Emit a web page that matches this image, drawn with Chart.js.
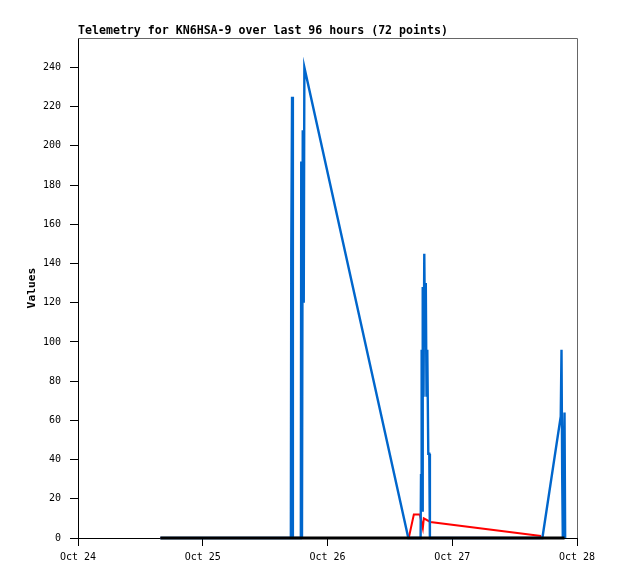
<!DOCTYPE html>
<html>
<head>
<meta charset="utf-8">
<title>Telemetry KN6HSA-9</title>
<script src="https://cdn.jsdelivr.net/npm/chart.js"></script>
<style>
body { margin: 0; background: #fff; }
</style>
</head>
<body>
<canvas id="myChart" width="618" height="579"></canvas>
<script>
const ctx = document.getElementById('myChart');
const titleText = "Telemetry for KN6HSA-9 over last 96 hours (72 points)";
const yTitle = "Values";
const dayLabels = ["Oct 24", "Oct 25", "Oct 26", "Oct 27", "Oct 28"];

// x values are hours since Oct 24 00:00
const blackHours = [15.85, 93.6];
const blackValues = [0, 0];

const blueHours = [15.85, 40.95, 41.03, 41.18, 41.34, 42.87, 42.95, 43.09, 43.24, 43.43, 43.55, 63.55,
    65.91, 65.99, 66.11, 66.20, 66.32, 66.47, 66.62, 66.76, 66.91, 67.05, 67.20, 67.39, 67.58, 67.70,
    89.34, 92.87, 93.02, 93.15, 93.27, 93.60, 93.72];
const blueValues = [0, 0, 145, 225, 0, 0, 192, 0, 208, 120, 240, 0,
    0, 32, 96, 14, 128, 72, 145, 100, 130, 72, 96, 43, 43, 0,
    0, 62, 96, 32, 0, 64, 0];

const redHours = [15.85, 63.63, 64.61, 65.76, 66.34, 66.53, 67.78, 89.09];
const redValues = [0, 0, 12, 12, 5, 10, 8.2, 1];

const monoFont = '"DejaVu Sans Mono", "Liberation Mono", monospace';

function toPoints(hours, values) {
    let pts = [];
    for (let i = 0; i < hours.length; i++) {
        pts.push({ x: hours[i], y: values[i] });
    }
    return pts;
}

function lineSet(hours, values, color, width) {
    return {
        data: toPoints(hours, values),
        borderColor: color,
        borderWidth: width,
        pointRadius: 0,
        showLine: true,
        tension: 0,
        clip: 4
    };
}

// title and gray frame on top/right
const framePlugin = {
    id: 'framePlugin',
    beforeDatasetsDraw(chart) {
        const a = chart.chartArea;
        const c = chart.ctx;
        c.save();
        c.strokeStyle = '#666666';
        c.lineWidth = 1;
        c.beginPath();
        c.moveTo(a.left, a.top + 0.5);
        c.lineTo(a.right + 0.5, a.top + 0.5);
        c.lineTo(a.right + 0.5, a.bottom);
        c.stroke();
        c.restore();
    },
    afterDraw(chart) {
        const c = chart.ctx;
        c.save();
        c.font = 'bold 11.6px ' + monoFont;
        c.fillStyle = '#000';
        c.textBaseline = 'middle';
        c.textAlign = 'left';
        c.fillText(titleText, chart.chartArea.left, 31);
        c.restore();
    }
};

new Chart(ctx, {
    type: 'scatter',
    data: {
        datasets: [
            lineSet(blackHours, blackValues, '#000000', 3),
            lineSet(blueHours, blueValues, '#0066cc', 2.4),
            lineSet(redHours, redValues, '#ff0000', 2)
        ]
    },
    options: {
        responsive: false,
        animation: false,
        layout: { padding: { left: 0, top: 38, right: 41, bottom: 0 } },
        plugins: {
            legend: { display: false },
            tooltip: { enabled: false }
        },
        scales: {
            x: {
                type: 'linear',
                min: 0,
                max: 96,
                afterFit: function (scale) { scale.height = 41; },
                grid: { drawOnChartArea: false, drawTicks: true, tickLength: 8, color: '#000' },
                border: { display: true, color: '#000', width: 1 },
                ticks: {
                    stepSize: 24,
                    padding: 5,
                    maxRotation: 0,
                    color: '#000',
                    font: { family: monoFont, size: 10 },
                    callback: function (v) { return dayLabels[v / 24]; }
                }
            },
            y: {
                min: 0,
                max: 255,
                afterFit: function (scale) { scale.width = 78; },
                grid: { drawOnChartArea: false, drawTicks: true, tickLength: 8, color: '#000' },
                border: { display: true, color: '#000', width: 1 },
                title: {
                    display: true,
                    text: yTitle,
                    color: '#000',
                    padding: { top: 25, bottom: 0 },
                    font: { family: monoFont, size: 11.3, weight: 'bold' }
                },
                ticks: {
                    stepSize: 20,
                    includeBounds: false,
                    padding: 9,
                    color: '#000',
                    font: { family: monoFont, size: 10 }
                }
            }
        }
    },
    plugins: [framePlugin]
});
</script>
</body>
</html>
